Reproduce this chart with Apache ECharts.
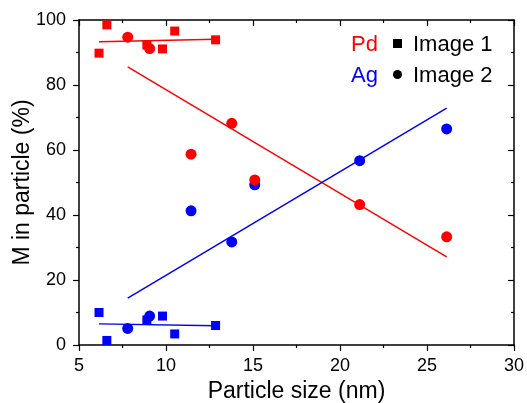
<!DOCTYPE html>
<html>
<head>
<meta charset="utf-8">
<script src="https://cdn.jsdelivr.net/npm/echarts@6/dist/echarts.min.js"></script>
<style>
  html, body { margin: 0; padding: 0; background: #fff; }
  #chart { width: 527px; height: 403px; }
</style>
</head>
<body>
<div id="chart"></div>
<script>
// Particle composition (Pd / Ag fraction) versus particle size
const image1Size = [6.15, 6.6, 8.9, 9.8, 10.5, 12.85];
const image1Pd = [89.8, 98.5, 92.3, 91.1, 96.6, 93.9];
const image1Ag = [10.0, 1.4, 7.7, 8.9, 3.4, 6.0];

const image2Size = [7.8, 9.06, 11.44, 13.78, 15.1, 21.13, 26.13];
const image2Pd = [94.7, 91.2, 58.7, 68.2, 50.8, 43.2, 33.3];
const image2Ag = [5.1, 8.9, 41.3, 31.7, 49.3, 56.7, 66.5];

// Linear fit end points
const fit1Size = [6.15, 12.85];
const fit1Pd = [93.3, 94.1];
const fit1Ag = [6.5, 5.95];
const fit2Size = [7.8, 26.13];
const fit2Pd = [85.6, 27.1];
const fit2Ag = [14.4, 72.9];

const xTicks = [5, 10, 15, 20, 25, 30];
const yTicks = [0, 20, 40, 60, 80, 100];

const RED = '#ff0000';
const BLUE = '#0000ff';
const FONT = '"Liberation Sans", Arial, sans-serif';

const pairs = (xs, ys) => xs.map((x, i) => [x, ys[i]]);

function fitLine(xs, ys, color) {
  return {
    type: 'line', data: pairs(xs, ys), symbol: 'none', silent: true,
    lineStyle: { color: color, width: 1.5 }, z: 1
  };
}
function points(xs, ys, color, symbol, size, z) {
  return {
    type: 'scatter', data: pairs(xs, ys), symbol: symbol, symbolSize: size,
    itemStyle: { color: color, opacity: 1 }, z: z
  };
}

const axisLine = { show: true, onZero: false, lineStyle: { color: '#000', width: 1.5 } };
const tickOut = { show: true, inside: false, length: 6, lineStyle: { color: '#000', width: 1.2 } };
const tickIn = { show: true, inside: true, length: 6, lineStyle: { color: '#000', width: 1.2 } };
const minor = { show: true, splitNumber: 2, length: 3, lineStyle: { color: '#000', width: 1.2 } };

const chart = echarts.init(document.getElementById('chart'), null, { renderer: 'canvas' });
chart.setOption({
  animation: false,
  backgroundColor: '#fff',
  grid: { left: 79, right: 13, top: 20, bottom: 58, containLabel: false, outerBoundsMode: 'none' },
  xAxis: [
    {
      type: 'value', min: xTicks[0], max: xTicks[xTicks.length - 1], interval: 5,
      position: 'bottom', name: 'Particle size (nm)', nameLocation: 'middle', nameGap: 35,
      nameMoveOverlap: false,
      nameTextStyle: { fontFamily: FONT, fontSize: 23, color: '#000' },
      axisLine: axisLine, axisTick: tickOut, minorTick: minor, splitLine: { show: false },
      axisLabel: { fontFamily: FONT, fontSize: 18, color: '#000', margin: 12 }
    },
    {
      type: 'value', min: xTicks[0], max: xTicks[xTicks.length - 1], interval: 5,
      position: 'top', axisLine: axisLine, axisTick: tickIn, minorTick: minor,
      splitLine: { show: false }, axisLabel: { show: false }
    }
  ],
  yAxis: [
    {
      type: 'value', min: yTicks[0], max: yTicks[yTicks.length - 1], interval: 20,
      position: 'left', name: 'M in particle (%)', nameLocation: 'middle', nameGap: 45,
      nameMoveOverlap: false,
      nameTextStyle: { fontFamily: FONT, fontSize: 23, color: '#000' },
      axisLine: axisLine, axisTick: tickOut, minorTick: minor, splitLine: { show: false },
      axisLabel: { fontFamily: FONT, fontSize: 18, color: '#000', margin: 13 }
    },
    {
      type: 'value', min: yTicks[0], max: yTicks[yTicks.length - 1], interval: 20,
      position: 'right', axisLine: axisLine, axisTick: tickIn, minorTick: minor,
      splitLine: { show: false }, axisLabel: { show: false }
    }
  ],
  series: [
    fitLine(fit1Size, fit1Pd, RED),
    fitLine(fit1Size, fit1Ag, BLUE),
    fitLine(fit2Size, fit2Pd, RED),
    fitLine(fit2Size, fit2Ag, BLUE),
    points(image1Size, image1Pd, RED, 'rect', 9, 2),
    points(image1Size, image1Ag, BLUE, 'rect', 9, 2),
    points(image2Size, image2Ag, BLUE, 'circle', 11, 3),
    points(image2Size, image2Pd, RED, 'circle', 11, 4)
  ],
  graphic: [
    { type: 'text', x: 378, y: 44.5, style: { text: 'Pd', fill: RED, font: '22px ' + FONT, align: 'right', verticalAlign: 'middle' } },
    { type: 'rect', shape: { x: 393, y: 39, width: 9, height: 9 }, style: { fill: '#000' } },
    { type: 'text', x: 413, y: 44.5, style: { text: 'Image 1', fill: '#000', font: '22px ' + FONT, align: 'left', verticalAlign: 'middle' } },
    { type: 'text', x: 378, y: 76, style: { text: 'Ag', fill: BLUE, font: '22px ' + FONT, align: 'right', verticalAlign: 'middle' } },
    { type: 'circle', shape: { cx: 397.5, cy: 74.5, r: 4.5 }, style: { fill: '#000' } },
    { type: 'text', x: 413, y: 76, style: { text: 'Image 2', fill: '#000', font: '22px ' + FONT, align: 'left', verticalAlign: 'middle' } }
  ]
});
</script>
</body>
</html>
